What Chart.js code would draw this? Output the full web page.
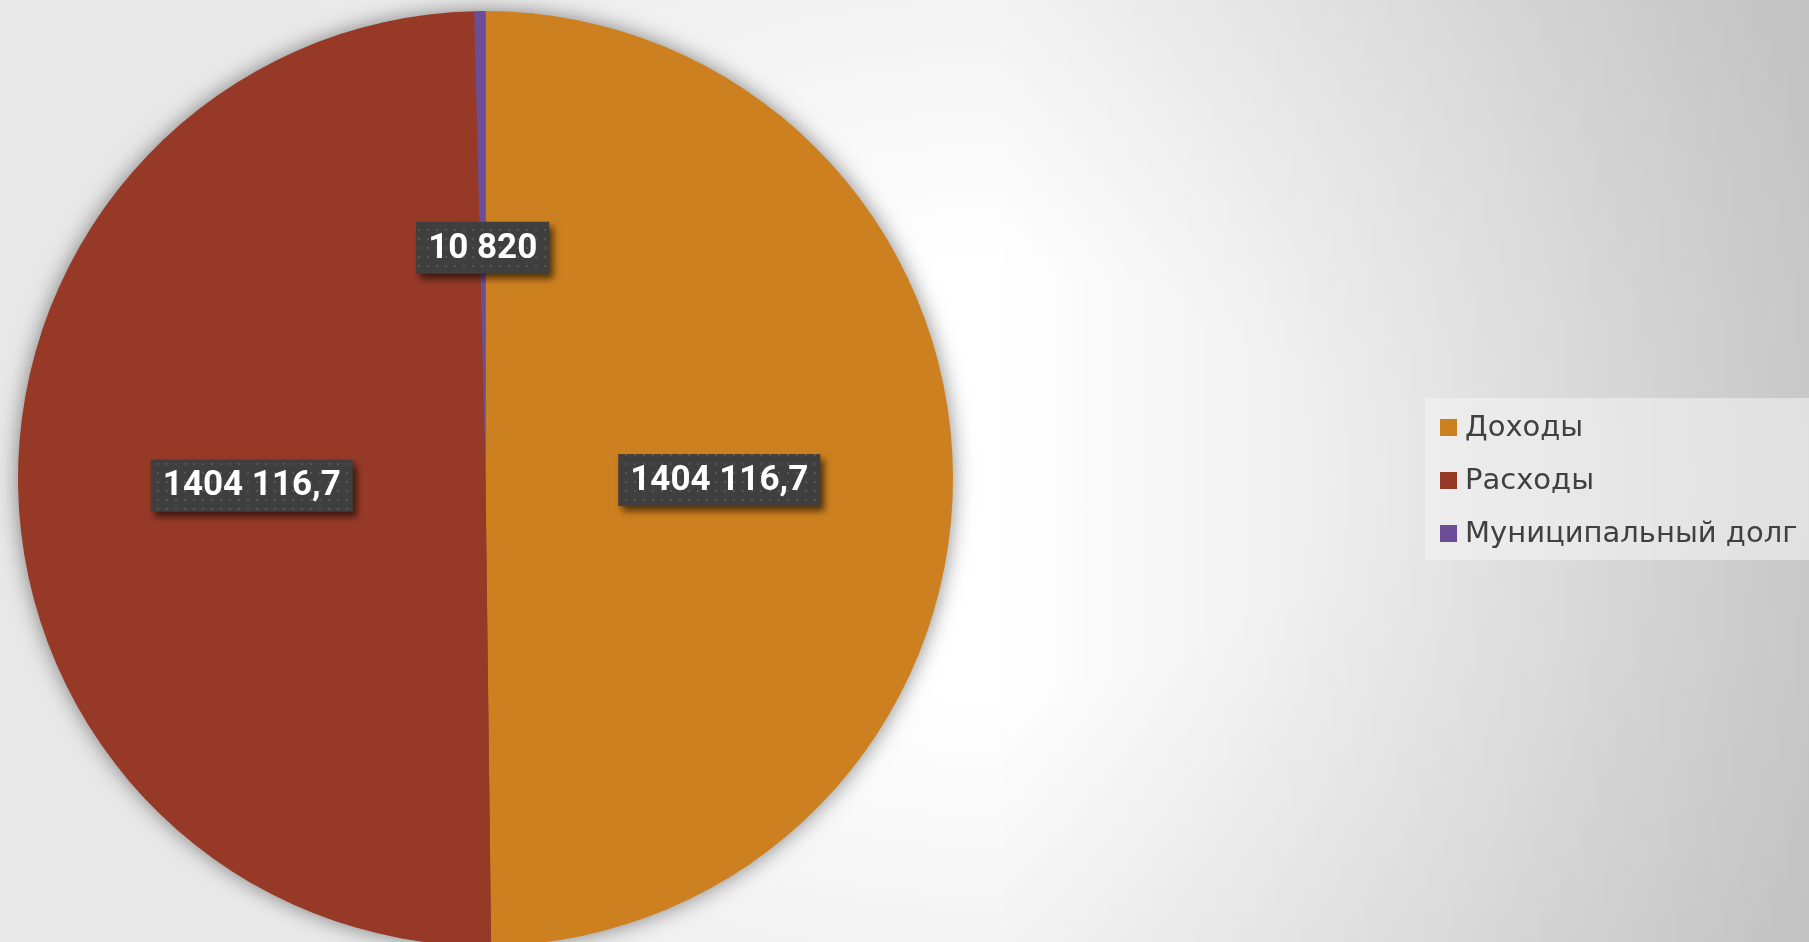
<!DOCTYPE html>
<html lang="ru">
<head>
<meta charset="utf-8">
<title>Бюджет</title>
<script src="https://cdn.jsdelivr.net/npm/chart.js@4.4.1/dist/chart.umd.min.js"></script>
<style>
  html, body { margin: 0; padding: 0; overflow: hidden; }
  body {
    width: 1809px;
    height: 942px;
    background:
      linear-gradient(to right, rgba(0,0,0,0) 0%, rgba(0,0,0,0) 55%, rgba(0,0,0,0.16) 100%),
      radial-gradient(ellipse 1000px 700px at 1000px 480px, #ffffff 30%, #e8e8e8 100%);
  }
  canvas { display: block; }
</style>
</head>
<body>
<canvas id="budgetChart" width="1809" height="946"></canvas>
<script>
const categories = ['Доходы', 'Расходы', 'Муниципальный долг'];
const values = [1404116.7, 1404116.7, 10820];
const valueLabels = ['1404 116,7', '1404 116,7', '10 820'];
const colors = ['#CD801F', '#963A27', '#6C4E98'];

// dotted dark fill for the value boxes
function makeDots(ctx) {
  const c = document.createElement('canvas');
  c.width = 9; c.height = 9;
  const p = c.getContext('2d');
  p.fillStyle = '#3f3f3f';
  p.fillRect(0, 0, 9, 9);
  p.fillStyle = '#565656';
  p.fillRect(4, 4, 2, 2);
  return ctx.createPattern(c, 'repeat');
}

const pieShadow = {
  id: 'pieShadow',
  beforeDatasetsDraw(chart) {
    const arc = chart.getDatasetMeta(0).data[0];
    if (!arc) return;
    const ctx = chart.ctx;
    ctx.save();
    ctx.shadowColor = 'rgba(0,0,0,0.5)';
    ctx.shadowBlur = 22;
    ctx.fillStyle = colors[1];
    ctx.beginPath();
    ctx.arc(arc.x, arc.y, arc.outerRadius - 1, 0, Math.PI * 2);
    ctx.fill();
    ctx.restore();
  }
};

const valueBoxes = {
  id: 'valueBoxes',
  afterDatasetsDraw(chart) {
    const ctx = chart.ctx;
    const dots = makeDots(ctx);
    ctx.save();
    ctx.font = 'bold 35px Roboto, "Liberation Sans", sans-serif';
    ctx.textAlign = 'center';
    ctx.textBaseline = 'middle';
    chart.getDatasetMeta(0).data.forEach((arc, i) => {
      const pos = arc.tooltipPosition();
      const y = pos.y + 3;
      const text = valueLabels[i];
      const w = ctx.measureText(text).width + 24;
      const h = 52;
      ctx.save();
      ctx.shadowColor = 'rgba(0,0,0,0.6)';
      ctx.shadowBlur = 7;
      ctx.shadowOffsetX = 4;
      ctx.shadowOffsetY = 5;
      ctx.fillStyle = dots;
      ctx.fillRect(pos.x - w / 2, y - h / 2, w, h);
      ctx.restore();
      ctx.fillStyle = '#ffffff';
      ctx.fillText(text, pos.x, y + 1);
    });
    ctx.restore();
  }
};

const sideLegend = {
  id: 'sideLegend',
  afterDraw(chart) {
    const ctx = chart.ctx;
    ctx.save();
    ctx.fillStyle = 'rgba(244,244,244,0.55)';
    ctx.fillRect(1425, 398, 384, 162);
    ctx.font = '29px "DejaVu Sans", sans-serif';
    ctx.textBaseline = 'middle';
    ctx.textAlign = 'left';
    categories.forEach((name, i) => {
      const y = 427 + i * 53;
      ctx.fillStyle = colors[i];
      ctx.fillRect(1440, y - 8, 17, 17);
      ctx.fillStyle = '#404040';
      ctx.fillText(name, 1465, y + 1);
    });
    ctx.restore();
  }
};

const ctx = document.getElementById('budgetChart').getContext('2d');
const chart = new Chart(ctx, {
  type: 'pie',
  data: {
    labels: categories,
    datasets: [{
      data: values,
      backgroundColor: colors,
      borderWidth: 0
    }]
  },
  options: {
    responsive: false,
    animation: false,
    layout: {
      padding: { left: 18, top: 11, right: 856, bottom: 0 }
    },
    plugins: {
      legend: { display: false },
      tooltip: { enabled: false }
    }
  },
  plugins: [pieShadow, valueBoxes, sideLegend]
});
</script>
</body>
</html>
